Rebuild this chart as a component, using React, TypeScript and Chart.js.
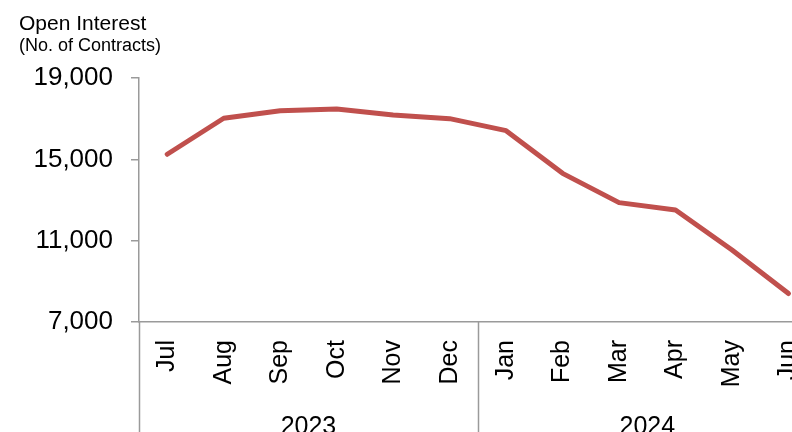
import React, { useEffect, useRef } from "react";
import { Chart, registerables } from "chart.js";

Chart.register(...registerables);

const months = ["Jul", "Aug", "Sep", "Oct", "Nov", "Dec", "Jan", "Feb", "Mar", "Apr", "May", "Jun"];
const openInterest = [15250, 17020, 17390, 17470, 17180, 17000, 16410, 14310, 12870, 12510, 10540, 8400];
const yearLabels = ["2023", "2024"];
const yearSpans = [6, 6];
const yMin = 7000;
const yMax = 19000;
const yStep = 4000;
const titleLine1 = "Open Interest";
const titleLine2 = "(No. of Contracts)";

const FONT = "'Liberation Sans', Arial, sans-serif";
const AXIS = "#9a9a9a";

const decorPlugin = {
  id: "decor",
  afterDraw(chart: any) {
    const ctx = chart.ctx;
    const x = chart.scales.x;
    const area = chart.chartArea;
    const H = chart.height;
    ctx.save();
    // titles
    ctx.fillStyle = "#000";
    ctx.textAlign = "left";
    ctx.textBaseline = "alphabetic";
    ctx.font = `21px ${FONT}`;
    ctx.fillText(titleLine1, 19, 30);
    ctx.font = `18px ${FONT}`;
    ctx.fillText(titleLine2, 19, 51);
    // separators and year labels
    const step = x.getPixelForValue(1) - x.getPixelForValue(0);
    let idx = 0;
    const bounds: number[] = [x.getPixelForValue(0) - step / 2];
    yearSpans.forEach((span) => {
      idx += span;
      bounds.push(x.getPixelForValue(idx - 1) + step / 2);
    });
    ctx.strokeStyle = AXIS;
    ctx.lineWidth = 1.5;
    bounds.forEach((b) => {
      ctx.beginPath();
      ctx.moveTo(Math.round(b) + 0.5, area.bottom);
      ctx.lineTo(Math.round(b) + 0.5, H);
      ctx.stroke();
    });
    ctx.font = `25px ${FONT}`;
    ctx.textAlign = "center";
    ctx.fillStyle = "#000";
    yearLabels.forEach((lab, i) => {
      const cx = (bounds[i] + bounds[i + 1]) / 2;
      ctx.fillText(lab, cx, 434);
    });
    ctx.restore();
  },
};

export default function App() {
  const ref = useRef<HTMLCanvasElement | null>(null);
  useEffect(() => {
    if (!ref.current) return;
    const chart = new Chart(ref.current, {
      type: "line",
      data: {
        labels: months,
        datasets: [
          {
            data: openInterest,
            borderColor: "#C0504D",
            borderWidth: 5,
            borderCapStyle: "round",
            borderJoinStyle: "round",
            pointRadius: 0,
            tension: 0,
            fill: false,
          },
        ],
      },
      options: {
        animation: false,
        responsive: false,
        devicePixelRatio: 1,
        layout: { padding: { left: 0, top: 78, right: 12, bottom: 0 } },
        plugins: { legend: { display: false }, tooltip: { enabled: false }, title: { display: false } },
        scales: {
          x: {
            type: "category",
            offset: true,
            grid: { display: false, drawTicks: false, tickLength: 0 },
            border: { display: true, color: AXIS, width: 1.5 },
            ticks: {
              autoSkip: false,
              minRotation: 90,
              maxRotation: 90,
              padding: 18,
              color: "#000",
              font: { family: FONT, size: 25 },
            },
            afterFit: (s: any) => {
              s.height = 110;
            },
          },
          y: {
            min: yMin,
            max: yMax,
            grid: { display: true, drawOnChartArea: false, drawTicks: true, tickLength: 8, color: AXIS, lineWidth: 1.5 },
            border: { display: true, color: AXIS, width: 1.5 },
            ticks: {
              stepSize: yStep,
              padding: 18,
              color: "#000",
              font: { family: FONT, size: 26 },
              callback: (v: any) => Number(v).toLocaleString("en-US"),
            },
            afterFit: (s: any) => {
              s.width = 139;
            },
          },
        },
      },
      plugins: [decorPlugin],
    });
    return () => chart.destroy();
  }, []);
  return (
    <div style={{ position: "fixed", left: 0, top: 0, width: 792, height: 432, overflow: "hidden", background: "#fff" }}>
      <canvas ref={ref} width={837} height={432} style={{ display: "block", width: 837, height: 432 }} />
    </div>
  );
}
